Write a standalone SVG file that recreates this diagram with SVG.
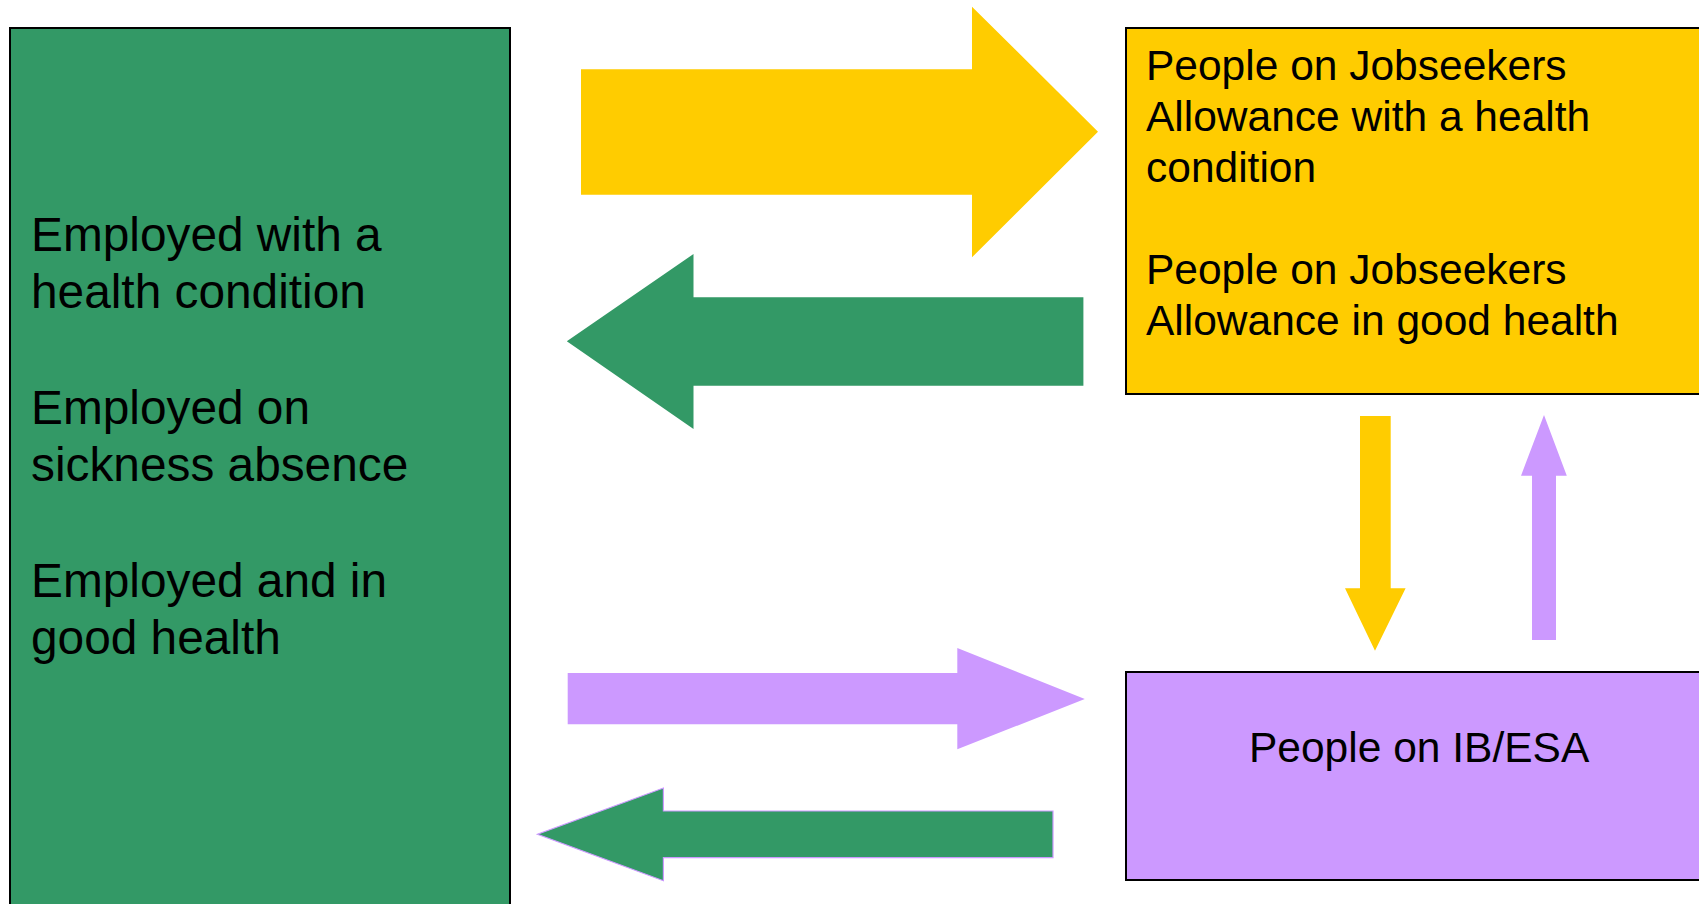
<svg xmlns="http://www.w3.org/2000/svg" width="1699" height="904" viewBox="0 0 1699 904">
<style>
.box{stroke:#000;stroke-width:2}
.g{fill:#339966}
.y{fill:#FFCC00}
.p{fill:#CC99FF}
.t{font-family:"Liberation Sans",Arial,sans-serif;fill:#000}
.l{font-size:47.8px}
.r{font-size:42.5px}
</style>
<rect width="1699" height="904" fill="#fff"/>
<g id="employed">
<rect class="box g" x="10" y="28" width="500" height="890"/>
<text class="t l" x="31" y="250.7">Employed with a</text>
<text class="t l" x="31" y="308.3">health condition</text>
<text class="t l" x="31" y="423.6">Employed on</text>
<text class="t l" x="31" y="481.2">sickness absence</text>
<text class="t l" x="31" y="596.5">Employed and in</text>
<text class="t l" x="31" y="654.1">good health</text>
</g>
<g id="jsa">
<rect class="box y" x="1126" y="28" width="600" height="366"/>
<text class="t r" x="1146" y="80">People on Jobseekers</text>
<text class="t r" x="1146" y="131">Allowance with a health</text>
<text class="t r" x="1146" y="182">condition</text>
<text class="t r" x="1146" y="284">People on Jobseekers</text>
<text class="t r" x="1146" y="335">Allowance in good health</text>
</g>
<g id="ibesa">
<rect class="box p" x="1126" y="672" width="600" height="208"/>
<text class="t r" x="1249" y="761.7">People on IB/ESA</text>
</g>
<g id="connectors">
<polygon class="y" points="581,69.3 972,69.3 972,6.7 1098,131.7 972,257.3 972,194.7 581,194.7"/>
<polygon class="g" points="1083.4,297.3 693.5,297.3 693.5,254 566.8,341.3 693.5,429 693.5,385.7 1083.4,385.7"/>
<polygon class="p" points="567.7,673 957.3,673 957.3,648 1084.8,699 957.3,749.3 957.3,724.3 567.7,724.3"/>
<polygon class="g" stroke="#CC99FF" stroke-width="1.2" points="1053,811 663.4,811 663.4,788 537.5,834.3 663.4,880.7 663.4,857.7 1053,857.7"/>
<polygon class="y" points="1360,416 1390.7,416 1390.7,588.3 1405.6,588.3 1375,650.7 1345,588.3 1360,588.3"/>
<polygon class="p" points="1532,640 1556,640 1556,475.7 1566.8,475.7 1544,415 1521,475.7 1532,475.7"/>
</g>
</svg>
